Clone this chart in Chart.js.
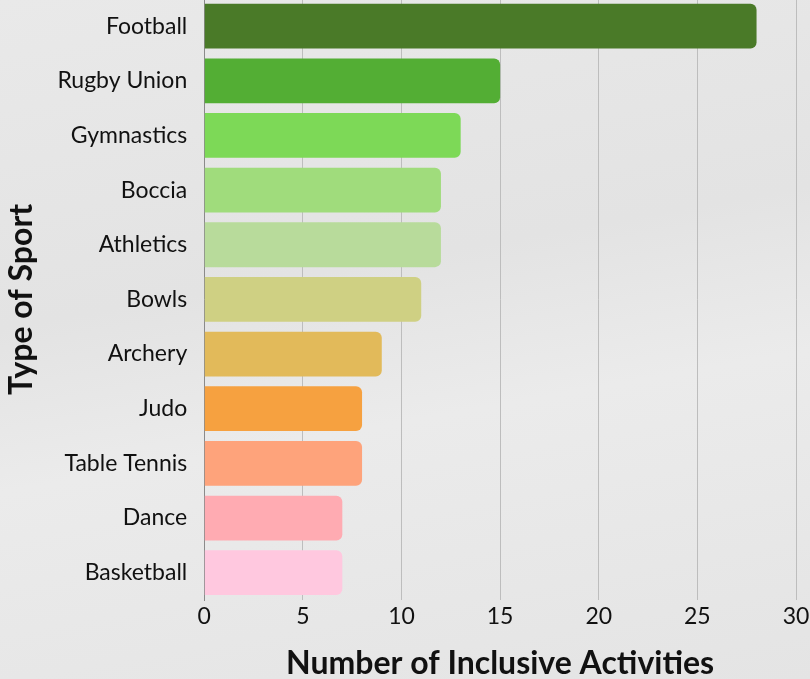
<!DOCTYPE html>
<html>
<head>
<meta charset="utf-8">
<script src="https://cdn.jsdelivr.net/npm/chart.js@4.4.0/dist/chart.umd.min.js"></script>
<style>
  html, body { margin: 0; padding: 0; overflow: hidden; }
  body { width: 810px; height: 679px;
    background: linear-gradient(170deg, #e9e9e9 0%, #e3e3e3 40%, #ebebeb 60%, #e4e4e4 100%); }
  #wrap { position: absolute; left: -4px; top: -32px; width: 838px; height: 715px; }
</style>
</head>
<body>
<div id="wrap"><canvas id="c"></canvas></div>
<script>
const categories = ["Football", "Rugby Union", "Gymnastics", "Boccia", "Athletics", "Bowls", "Archery", "Judo", "Table Tennis", "Dance", "Basketball"];
const activities = [28, 15, 13, 12, 12, 11, 9, 8, 8, 7, 7];
const barColors = ["#4a7a28", "#53ae34", "#7dd957", "#a0dc7c", "#b8db9b", "#cfd083", "#e2ba5a", "#f6a140", "#fea37b", "#ffabb2", "#ffc8df"];
const xTicks = [0, 5, 10, 15, 20, 25, 30];

new Chart(document.getElementById('c'), {
  type: 'bar',
  data: {
    labels: categories,
    datasets: [{
      data: activities,
      backgroundColor: barColors,
      borderWidth: 0,
      borderRadius: { topRight: 6, bottomRight: 6, topLeft: 0, bottomLeft: 0 },
      borderSkipped: 'start',
      categoryPercentage: 0.9,
      barPercentage: 0.91
    }]
  },
  options: {
    indexAxis: 'y',
    responsive: true,
    maintainAspectRatio: false,
    animation: false,
    layout: { padding: { left: 0, right: 38, top: 0, bottom: 0 } },
    plugins: { legend: { display: false }, tooltip: { enabled: false } },
    scales: {
      x: {
        min: 0, max: 30,
        afterBuildTicks: (axis) => { axis.ticks = xTicks.map(v => ({ value: v })); },
        grid: { color: '#bdbdbd', lineWidth: 1, drawTicks: false },
        border: { display: false },
        ticks: { color: '#111', padding: 3, font: { family: 'Lato', size: 23 } },
        title: { display: true, text: 'Number of Inclusive Activities', color: '#111',
          font: { family: 'Lato', size: 32, weight: 'bold' }, padding: { top: 11, bottom: 0 } }
      },
      y: {
        grid: { display: false, drawTicks: false },
        border: { display: true, color: '#8a8a8a', width: 1 },
        ticks: { color: '#111', padding: 17, font: { family: 'Lato', size: 23 } },
        title: { display: true, text: 'Type of Sport', color: '#111',
          font: { family: 'Lato', size: 32, weight: 'bold' }, padding: { top: 6, bottom: 0 } }
      }
    }
  }
});
</script>
</body>
</html>
